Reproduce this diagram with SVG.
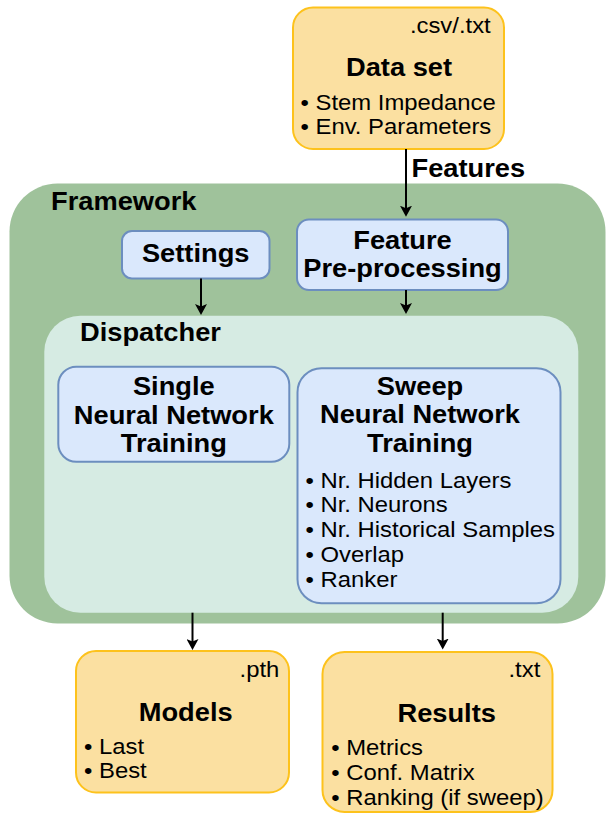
<svg xmlns="http://www.w3.org/2000/svg" width="607" height="814" viewBox="0 0 607 814">
<style>
text { font-family: "Liberation Sans", Arial, sans-serif; fill: #000; }
.b { font-weight: bold; font-size: 25.5px; }
.n { font-size: 22.3px; }
.m { text-anchor: middle; }
.e { text-anchor: end; }
.blue { fill: #dae8fc; stroke: #6c8ebf; stroke-width: 2; }
.file { fill: #fbe0a1; stroke: #fdc21c; stroke-width: 2; }
.conn line { stroke: #000; stroke-width: 2; fill: none; marker-end: url(#arrow); }
</style>
<defs>
<marker id="arrow" markerUnits="userSpaceOnUse" markerWidth="11" markerHeight="12" viewBox="0 0 11 12" refX="7" refY="6" orient="auto">
<path d="M0,0 L11,6 L0,12 L2.5,6 z" fill="#000"/>
</marker>
</defs>

<g id="framework">
<rect x="9.5" y="183.5" width="596" height="440" rx="48" fill="#9fc29b"/>
<text class="b" transform="translate(51,210) scale(1.07,1)">Framework</text>
</g>

<g id="dispatcher">
<rect x="44.3" y="315.7" width="534" height="297" rx="36" fill="#d6ebe3"/>
<text class="b" transform="translate(80,340.5) scale(1.07,1)">Dispatcher</text>
</g>

<g id="dataset">
<rect class="file" x="293" y="7.5" width="211" height="141.5" rx="20"/>
<text class="n e" transform="translate(490.7,32.7) scale(1.07,1)">.csv/.txt</text>
<text class="b m" transform="translate(399,76) scale(1.07,1)">Data set</text>
<g transform="translate(300.5,0) scale(1.07,1)">
<text class="n" x="0" y="110">• Stem Impedance</text>
<text class="n" x="0" y="134.3">• Env. Parameters</text>
</g>
</g>

<g id="settings">
<rect class="blue" x="122" y="231" width="147.5" height="47.5" rx="10"/>
<text class="b m" transform="translate(195.7,261.7) scale(1.07,1)">Settings</text>
</g>

<g id="preprocessing">
<rect class="blue" x="297" y="219.5" width="211" height="70.5" rx="12"/>
<g transform="translate(402.5,0) scale(1.07,1)">
<text class="b m" x="0" y="249">Feature</text>
<text class="b m" x="0" y="277.3">Pre-processing</text>
</g>
</g>

<g id="single">
<rect class="blue" x="58.3" y="366.7" width="231" height="95" rx="18"/>
<g transform="translate(173.8,0) scale(1.07,1)">
<text class="b m" x="0" y="395">Single</text>
<text class="b m" x="0" y="423.7">Neural Network</text>
<text class="b m" x="0" y="451.7">Training</text>
</g>
</g>

<g id="sweep">
<rect class="blue" x="297.5" y="368.3" width="263" height="235" rx="24"/>
<g transform="translate(420,0) scale(1.07,1)">
<text class="b m" x="0" y="395">Sweep</text>
<text class="b m" x="0" y="423.5">Neural Network</text>
<text class="b m" x="0" y="451.7">Training</text>
</g>
<g transform="translate(305.5,0) scale(1.07,1)">
<text class="n" x="0" y="487.7">• Nr. Hidden Layers</text>
<text class="n" x="0" y="512">• Nr. Neurons</text>
<text class="n" x="0" y="536.8">• Nr. Historical Samples</text>
<text class="n" x="0" y="561.8">• Overlap</text>
<text class="n" x="0" y="587">• Ranker</text>
</g>
</g>

<g id="models">
<rect class="file" x="76" y="651" width="213" height="141.5" rx="20"/>
<text class="n e" transform="translate(279.3,677.3) scale(1.07,1)">.pth</text>
<text class="b m" transform="translate(185.7,721) scale(1.07,1)">Models</text>
<g transform="translate(84,0) scale(1.07,1)">
<text class="n" x="0" y="754.3">• Last</text>
<text class="n" x="0" y="778.3">• Best</text>
</g>
</g>

<g id="results">
<rect class="file" x="322.5" y="652" width="230" height="160" rx="22"/>
<text class="n e" transform="translate(540.3,676.7) scale(1.07,1)">.txt</text>
<text class="b m" transform="translate(446.7,721.7) scale(1.07,1)">Results</text>
<g transform="translate(331.2,0) scale(1.07,1)">
<text class="n" x="0" y="755">• Metrics</text>
<text class="n" x="0" y="780">• Conf. Matrix</text>
<text class="n" x="0" y="805">• Ranking (if sweep)</text>
</g>
</g>

<g id="connectors" class="conn">
<line x1="406" y1="149" x2="406" y2="212.7"/>
<line x1="201" y1="278.5" x2="201" y2="311"/>
<line x1="406" y1="290" x2="406" y2="310"/>
<line x1="192.5" y1="612.7" x2="192.5" y2="646"/>
<line x1="442.7" y1="612.7" x2="442.7" y2="645.5"/>
<text class="b" transform="translate(411.5,176.7) scale(1.07,1)">Features</text>
</g>
</svg>
